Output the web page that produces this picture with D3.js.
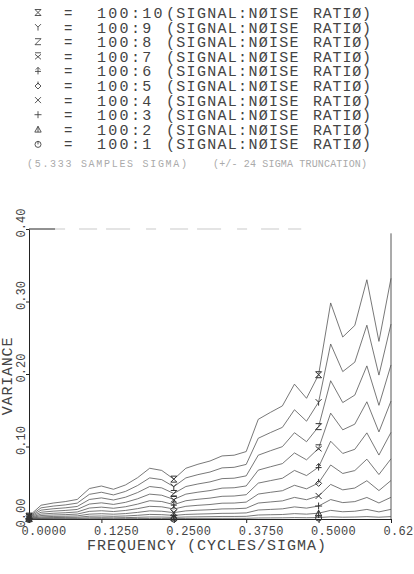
<!DOCTYPE html>
<html>
<head>
<meta charset="utf-8">
<script src="https://cdn.jsdelivr.net/npm/d3@7"></script>
<style>
    body { margin: 0; background: #fff; }
    svg { display: block; }
    text { font-family: 'Liberation Mono', 'DejaVu Sans Mono', monospace; fill: #444; }
</style>
</head>
<body>
<div id="chart"></div>
<script>
// frequency in cycles/sigma (k/48)
const frequency = [0, 0.02083, 0.04167, 0.0625, 0.08333, 0.10417, 0.125, 0.14583, 0.16667, 0.1875,
    0.20833, 0.22917, 0.25, 0.27083, 0.29167, 0.3125, 0.33333, 0.35417, 0.375, 0.39583,
    0.41667, 0.4375, 0.45833, 0.47917, 0.5, 0.52083, 0.54167, 0.5625, 0.58333, 0.60417, 0.625]

const ratios = ['100:10', '100:9', '100:8', '100:7', '100:6', '100:5', '100:4', '100:3', '100:2', '100:1']
const markers = ['hourglass', 'y', 'z', 'xbar', 'arrow', 'diamond', 'x', 'plus', 'tri', 'circ']

const var10 = [0.004, 0.019, 0.022, 0.024, 0.027, 0.042, 0.0455, 0.041, 0.047, 0.057, 0.070, 0.067, 0.055, 0.070, 0.0755, 0.080,
    0.087, 0.088, 0.093, 0.1375, 0.147, 0.156, 0.186, 0.1665, 0.199, 0.298, 0.251, 0.267, 0.330, 0.245, 0.332]
const var9 = [0.0032, 0.0154, 0.0178, 0.0194, 0.0219, 0.0340, 0.0369, 0.0332, 0.0381, 0.0462, 0.0567, 0.0543, 0.0446, 0.0567, 0.0612, 0.0648,
    0.0705, 0.0713, 0.0753, 0.1114, 0.1191, 0.1264, 0.1507, 0.1349, 0.1612, 0.2414, 0.2033, 0.2163, 0.2673, 0.1985, 0.2689]
const var8 = [0.0026, 0.0122, 0.0141, 0.0154, 0.0173, 0.0269, 0.0291, 0.0262, 0.0301, 0.0365, 0.0448, 0.0429, 0.0352, 0.0448, 0.0483, 0.0512,
    0.0557, 0.0563, 0.0595, 0.0880, 0.0941, 0.0998, 0.1190, 0.1066, 0.1274, 0.1907, 0.1606, 0.1709, 0.2112, 0.1568, 0.2125]
const var7 = [0.0020, 0.0093, 0.0108, 0.0118, 0.0132, 0.0206, 0.0223, 0.0201, 0.0230, 0.0279, 0.0343, 0.0328, 0.0270, 0.0343, 0.0370, 0.0392,
    0.0426, 0.0431, 0.0456, 0.0674, 0.0720, 0.0764, 0.0911, 0.0816, 0.0975, 0.1460, 0.1230, 0.1308, 0.1617, 0.1201, 0.1627]
const var6 = [0.0014, 0.0068, 0.0079, 0.0086, 0.0097, 0.0151, 0.0164, 0.0148, 0.0169, 0.0205, 0.0252, 0.0241, 0.0198, 0.0252, 0.0272, 0.0288,
    0.0313, 0.0317, 0.0335, 0.0495, 0.0529, 0.0562, 0.0670, 0.0599, 0.0716, 0.1073, 0.0904, 0.0961, 0.1188, 0.0882, 0.1195]
const var5 = [0.0010, 0.0048, 0.0055, 0.0060, 0.0068, 0.0105, 0.0114, 0.0103, 0.0118, 0.0143, 0.0175, 0.0168, 0.0138, 0.0175, 0.0189, 0.0200,
    0.0218, 0.0220, 0.0233, 0.0344, 0.0368, 0.0390, 0.0465, 0.0416, 0.0498, 0.0745, 0.0628, 0.0668, 0.0825, 0.0613, 0.0830]
const var4 = [0.0006, 0.0030, 0.0035, 0.0038, 0.0043, 0.0067, 0.0073, 0.0066, 0.0075, 0.0091, 0.0112, 0.0107, 0.0088, 0.0112, 0.0121, 0.0128,
    0.0139, 0.0141, 0.0149, 0.0220, 0.0235, 0.0250, 0.0298, 0.0266, 0.0318, 0.0477, 0.0402, 0.0427, 0.0528, 0.0392, 0.0531]
const var3 = [0.0004, 0.0017, 0.0020, 0.0022, 0.0024, 0.0038, 0.0041, 0.0037, 0.0042, 0.0051, 0.0063, 0.0060, 0.0050, 0.0063, 0.0068, 0.0072,
    0.0078, 0.0079, 0.0084, 0.0124, 0.0132, 0.0140, 0.0167, 0.0150, 0.0179, 0.0268, 0.0226, 0.0240, 0.0297, 0.0221, 0.0299]
const var2 = [0.0002, 0.0008, 0.0009, 0.0010, 0.0011, 0.0017, 0.0018, 0.0016, 0.0019, 0.0023, 0.0028, 0.0027, 0.0022, 0.0028, 0.0030, 0.0032,
    0.0035, 0.0035, 0.0037, 0.0055, 0.0059, 0.0062, 0.0074, 0.0067, 0.0080, 0.0119, 0.0100, 0.0107, 0.0132, 0.0098, 0.0133]
const var1 = [0.0000, 0.0002, 0.0002, 0.0002, 0.0003, 0.0004, 0.0005, 0.0004, 0.0005, 0.0006, 0.0007, 0.0007, 0.0006, 0.0007, 0.0008, 0.0008,
    0.0009, 0.0009, 0.0009, 0.0014, 0.0015, 0.0016, 0.0019, 0.0017, 0.0020, 0.0030, 0.0025, 0.0027, 0.0033, 0.0025, 0.0033]

const variances = [var10, var9, var8, var7, var6, var5, var4, var3, var2, var1]
const markerIdx = [0, 12, 24]

const xTicks = [0, 0.125, 0.25, 0.375, 0.5, 0.625]
const yTicks = [0, 0.1, 0.2, 0.3, 0.4]

const symbolPaths = {
    hourglass: 'M-3,-3H3M-3,3H3M-3,-3L3,3M3,-3L-3,3',
    y: 'M-3,-3L0,0L3,-3M0,0V3.5',
    z: 'M-3,-3H3L-3,3H3',
    xbar: 'M-3,-3.5H3M-3,-2L3,3M3,-2L-3,3',
    arrow: 'M-3,0.5H3M0,-3.5V3.5M-2.2,-1.3L0,-3.5L2.2,-1.3',
    diamond: 'M0,-2.5L3,0.5L0,3.5L-3,0.5ZM0,-4V-1',
    x: 'M-3,-3L3,3M3,-3L-3,3',
    plus: 'M-3.5,0H3.5M0,-3.5V3.5',
    tri: 'M-3.2,2.8H3.2L0,-3ZM0,-3V2.8',
    circ: 'M3,0.5A3,3 0 1,1 -3,0.5A3,3 0 1,1 3,0.5M0,-3V0.5'
}

const svg = d3.select('#chart')
    .append('svg')
    .attr('width', 414)
    .attr('height', 574)

// Legend block
const legend = svg.append('g')
const rowY = i => 18 + i * 14.6

legend.selectAll('path')
    .data(ratios)
    .enter()
    .append('path')
    .attr('d', (d, i) => symbolPaths[markers[i]])
    .attr('transform', (d, i) => `translate(38,${rowY(i) - 5.5})`)
    .attr('fill', 'none')
    .attr('stroke', '#444')
    .attr('stroke-width', 0.9)

const block = legend.append('text').style('font-size', '15px')
ratios.forEach((r, i) => {
    block.append('tspan')
        .attr('x', 64).attr('y', rowY(i))
        .style('font-size', '14px')
        .text('=')
    block.append('tspan')
        .attr('x', 97).attr('y', rowY(i))
        .style('letter-spacing', '2.3px')
        .text(r)
    block.append('tspan')
        .attr('x', 166).attr('y', rowY(i))
        .style('letter-spacing', '1.3px')
        .text('(SIGNAL:NØISE')
    block.append('tspan')
        .attr('x', 313).attr('y', rowY(i))
        .style('letter-spacing', '0.8px')
        .text('RATIØ)')
})

legend.append('text')
    .attr('x', 27).attr('y', 167)
    .attr('textLength', 160).attr('lengthAdjust', 'spacing')
    .style('font-size', '10px').style('fill', '#aaa')
    .text('(5.333 SAMPLES SIGMA)')
legend.append('text')
    .attr('x', 213).attr('y', 167)
    .attr('textLength', 154).attr('lengthAdjust', 'spacing')
    .style('font-size', '10px').style('fill', '#aaa')
    .text('(+/- 24 SIGMA TRUNCATION)')

// Plot
const x = d3.scaleLinear().domain([0, 0.625]).range([29, 391])
const y = d3.scaleLinear().domain([0, 0.4]).range([519, 229])

const xAxis = svg.append('g')
    .attr('transform', `translate(0,${y(0)})`)
    .call(d3.axisBottom(x).tickValues(xTicks).tickSize(4).tickSizeOuter(0).tickFormat(d3.format('.4f')))
xAxis.selectAll('path, line').attr('stroke', '#222')
xAxis.selectAll('text')
    .attr('y', 16).attr('dy', 0)
    .attr('text-anchor', 'start')
    .attr('dx', -8)
    .style('font-size', '12px')
    .style('letter-spacing', '0.3px')
    .style('font-family', "'Liberation Mono', monospace")
    .style('fill', '#444')

const yAxis = svg.append('g')
    .attr('transform', `translate(${x(0)},0)`)
    .call(d3.axisLeft(y).tickValues(yTicks).tickSize(3).tickSizeOuter(0).tickFormat(d3.format('.2f')))
yAxis.selectAll('path, line').attr('stroke', '#222')
yAxis.selectAll('text').remove()
yAxis.selectAll('.tick')
    .append('text')
    .attr('transform', 'translate(-4,-6.5) rotate(-90)')
    .attr('text-anchor', 'middle')
    .attr('fill', '#444')
    .style('font-size', '12px')
    .style('font-family', "'Liberation Mono', monospace")
    .text(d => d3.format('.2f')(d))

// frame: right edge and faded top edge
svg.append('line')
    .attr('x1', x(0.625)).attr('x2', x(0.625))
    .attr('y1', y(0.394)).attr('y2', y(0))
    .attr('stroke', '#444').attr('stroke-width', 0.9)
svg.append('line')
    .attr('x1', x(0)).attr('x2', x(0.045))
    .attr('y1', y(0.4)).attr('y2', y(0.4))
    .attr('stroke', '#222').attr('stroke-width', 1)
svg.append('line')
    .attr('x1', x(0.045)).attr('x2', x(0.47))
    .attr('y1', y(0.4)).attr('y2', y(0.4))
    .attr('stroke', '#bbb').attr('stroke-width', 0.8)
    .attr('stroke-dasharray', '10,14,18,9,24,16')

const line = d3.line()
    .x((d, i) => x(frequency[i]))
    .y(d => y(d))

const series = svg.append('g')
series.selectAll('path')
    .data(variances)
    .enter()
    .append('path')
    .attr('d', d => line(d))
    .attr('fill', 'none')
    .attr('stroke', '#555')
    .attr('stroke-width', 0.8)

variances.forEach((vals, s) => {
    series.selectAll(null)
        .data(markerIdx)
        .enter()
        .append('path')
        .attr('d', symbolPaths[markers[s]])
        .attr('transform', k => `translate(${x(frequency[k])},${y(vals[k])})`)
        .attr('fill', 'none')
        .attr('stroke', '#333')
        .attr('stroke-width', 1)
})

// axis titles
svg.append('text')
    .attr('x', 87).attr('y', 550)
    .style('font-size', '15px')
    .style('letter-spacing', '1px')
    .text('FREQUENCY (CYCLES/SIGMA)')
svg.append('text')
    .attr('transform', 'translate(12,376) rotate(-90)')
    .attr('text-anchor', 'middle')
    .style('font-size', '15px')
    .style('letter-spacing', '0.8px')
    .text('VARIANCE')
</script>
</body>
</html>
